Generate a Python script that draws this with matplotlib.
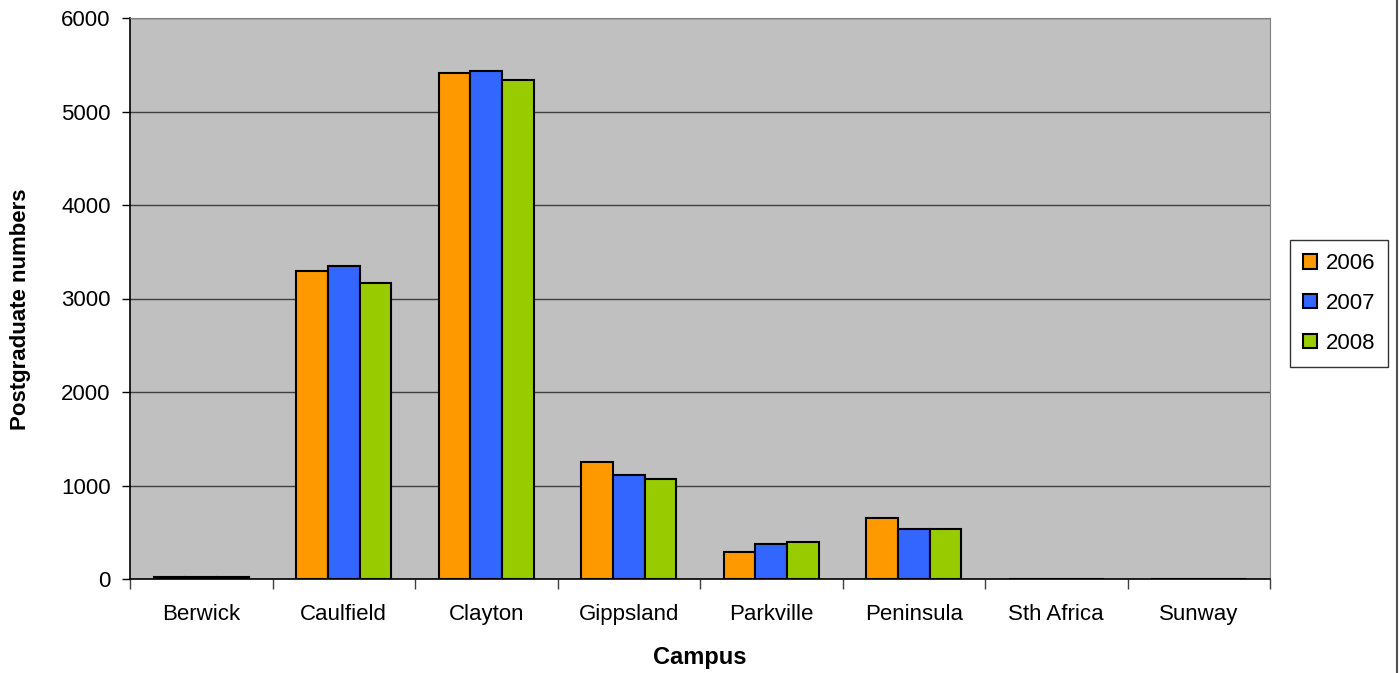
import numpy as np
import matplotlib.pyplot as plt

campuses = ['Berwick', 'Caulfield', 'Clayton', 'Gippsland', 'Parkville',
            'Peninsula', 'Sth Africa', 'Sunway']
years = ['2006', '2007', '2008']
v2006 = [22, 3294, 5412, 1248, 292, 649, 0, 0]
v2007 = [22, 3348, 5433, 1109, 371, 531, 0, 0]
v2008 = [22, 3166, 5337, 1066, 392, 531, 0, 0]
colors = ['#FF9900', '#3366FF', '#99CC00']

plt.rcParams['font.family'] = ['Liberation Sans', 'DejaVu Sans']

fig = plt.figure(figsize=(13.99, 6.73), dpi=100)
ax = fig.add_axes([130 / 1399, 1 - 579 / 673, 1140 / 1399, 561 / 673])
ax.set_facecolor('#C0C0C0')

x = np.arange(len(campuses))
w = 1 / 4.5
for i, (vals, c, yr) in enumerate(zip([v2006, v2007, v2008], colors, years)):
    ax.bar(x + (i - 1) * w, vals, width=w, color=c, edgecolor='black',
           linewidth=1.5, label=yr, zorder=3)

ax.set_xlim(-0.5, len(campuses) - 0.5)
ax.set_ylim(0, 6000)
ax.set_yticks(range(0, 6001, 1000))
ax.yaxis.grid(True, color='#404040', linewidth=1, zorder=1)
ax.set_axisbelow(True)

ax.set_xticks(x)
ax.set_xticklabels(campuses, fontsize=16)
ax.tick_params(axis='x', length=0, pad=18)
ax.set_xticks(np.arange(-0.5, len(campuses), 1), minor=True)
ax.tick_params(axis='x', which='minor', length=7, width=1, color='#404040')
ax.tick_params(axis='y', length=6, width=1, labelsize=16, pad=8)

for s in ['top', 'right']:
    ax.spines[s].set_color('#808080')
for s in ['left', 'bottom']:
    ax.spines[s].set_color('black')
    ax.spines[s].set_linewidth(1.2)

ax.set_xlabel('Campus', fontsize=17, fontweight='bold', labelpad=15)
ax.set_ylabel('Postgraduate numbers', fontsize=16, fontweight='bold')
ax.yaxis.set_label_coords(-0.087, 0.48)

leg = fig.legend(loc='upper left', bbox_to_anchor=(1290 / 1399, 1 - 240 / 673),
                 fontsize=16, frameon=True, fancybox=False, handlelength=0.6,
                 handleheight=0.6, handletextpad=0.4, labelspacing=0.85,
                 borderpad=0.6, borderaxespad=0)
leg.get_frame().set_edgecolor('black')
leg.get_frame().set_linewidth(1)

fig.add_artist(plt.Line2D([1397 / 1399, 1397 / 1399], [0, 1], color='#505050',
                          linewidth=1.5, transform=fig.transFigure))

fig.savefig('out.png', dpi=100)
